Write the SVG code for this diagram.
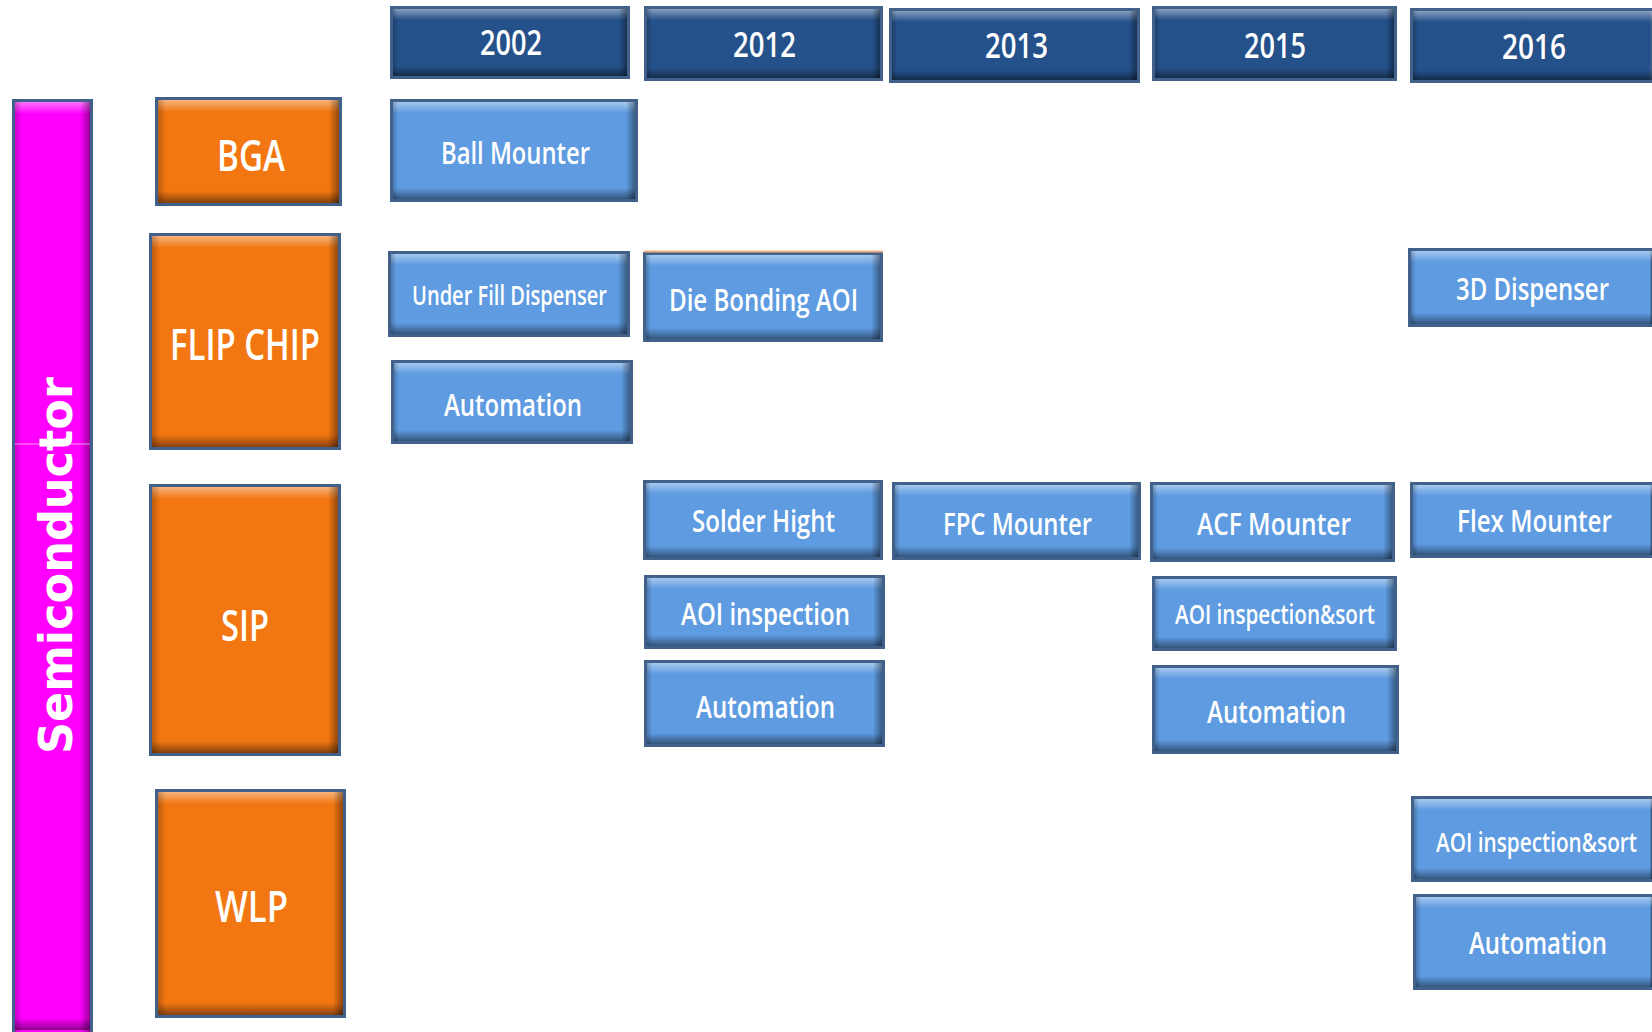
<svg xmlns="http://www.w3.org/2000/svg" width="1652" height="1032" viewBox="0 0 1652 1032">
<defs>
<linearGradient id="gTop" x1="0" y1="0" x2="0" y2="1"><stop offset="0" stop-color="#fff" stop-opacity="0.45"/><stop offset="1" stop-color="#fff" stop-opacity="0"/></linearGradient>
<linearGradient id="gBot" x1="0" y1="0" x2="0" y2="1"><stop offset="0" stop-color="#000" stop-opacity="0"/><stop offset="1" stop-color="#000" stop-opacity="0.45"/></linearGradient>
<linearGradient id="gRgt" x1="0" y1="0" x2="1" y2="0"><stop offset="0" stop-color="#000" stop-opacity="0"/><stop offset="1" stop-color="#000" stop-opacity="0.4"/></linearGradient>
<linearGradient id="gLft" x1="0" y1="0" x2="1" y2="0"><stop offset="0" stop-color="#000" stop-opacity="0.22"/><stop offset="1" stop-color="#000" stop-opacity="0"/></linearGradient>
</defs>
<style>
.box{stroke:#41618A;stroke-width:3}
.hdr{fill:#25518A}
.blue{fill:#5E9BE1}
.org{fill:#F27612}
.mag{fill:#FF00FF}
.t{fill:#fff;font-family:"Open Sans","Noto Sans","Liberation Sans",sans-serif;font-weight:600;text-anchor:middle}
.ty{font-size:35px}
.tb{font-size:31px}
.ts{font-size:27px}
.to{font-size:44px}
.top{fill:url(#gTop)}
.bot{fill:url(#gBot)}
.rgt{fill:url(#gRgt)}
.lft{fill:url(#gLft)}
</style>
<rect width="1652" height="1032" fill="#fff"/>

<g id="semiconductor">
<rect class="box mag" x="13.5" y="100.5" width="78" height="933"/>
<rect class="top" x="15" y="102" width="75" height="12"/>
<rect class="lft" x="15" y="102" width="7" height="930"/>
<rect class="rgt" x="80" y="102" width="10" height="930"/>
<rect class="bot" x="15" y="1018" width="75" height="12"/>
<line x1="15" y1="444" x2="90" y2="444" stroke="#fff" stroke-opacity="0.6" stroke-width="1"/>
<text transform="translate(72,565.5) rotate(-90)" x="0" y="0" fill="#fff" font-family="DejaVu Sans, Verdana, sans-serif" font-weight="bold" font-size="46" text-anchor="middle" textLength="377" lengthAdjust="spacingAndGlyphs">Semiconductor</text>
</g>

<g id="y2002"><rect class="box hdr" x="391.5" y="7.5" width="237" height="70"/><rect class="top" x="393" y="9" width="234" height="11"/><rect class="bot" x="393" y="66" width="234" height="10"/><rect class="lft" x="393" y="9" width="5" height="67"/><rect class="rgt" x="619" y="9" width="8" height="67"/><text class="t ty" x="511" y="55" textLength="62" lengthAdjust="spacingAndGlyphs">2002</text></g>
<g id="y2012"><rect class="box hdr" x="645.5" y="7.5" width="236" height="72"/><rect class="top" x="647" y="9" width="233" height="11"/><rect class="bot" x="647" y="68" width="233" height="10"/><rect class="lft" x="647" y="9" width="5" height="69"/><rect class="rgt" x="872" y="9" width="8" height="69"/><text class="t ty" x="764.5" y="57" textLength="63" lengthAdjust="spacingAndGlyphs">2012</text></g>
<g id="y2013"><rect class="box hdr" x="890.5" y="9.5" width="248" height="72"/><rect class="top" x="892" y="11" width="245" height="11"/><rect class="bot" x="892" y="70" width="245" height="10"/><rect class="lft" x="892" y="11" width="5" height="69"/><rect class="rgt" x="1129" y="11" width="8" height="69"/><text class="t ty" x="1016.5" y="58" textLength="63" lengthAdjust="spacingAndGlyphs">2013</text></g>
<g id="y2015"><rect class="box hdr" x="1153.5" y="7.5" width="242" height="72"/><rect class="top" x="1155" y="9" width="239" height="11"/><rect class="bot" x="1155" y="68" width="239" height="10"/><rect class="lft" x="1155" y="9" width="5" height="69"/><rect class="rgt" x="1386" y="9" width="8" height="69"/><text class="t ty" x="1275" y="58" textLength="62" lengthAdjust="spacingAndGlyphs">2015</text></g>
<g id="y2016"><rect class="box hdr" x="1411.5" y="9.5" width="240.5" height="72"/><rect class="top" x="1413" y="11" width="239" height="11"/><rect class="bot" x="1413" y="70" width="239" height="10"/><rect class="lft" x="1413" y="11" width="5" height="69"/><text class="t ty" x="1534" y="59" textLength="64" lengthAdjust="spacingAndGlyphs">2016</text></g>

<g id="bga"><rect class="box org" x="156.5" y="98.5" width="184" height="106"/><rect class="top" x="158" y="100" width="181" height="12"/><rect class="bot" x="158" y="191" width="181" height="12"/><rect class="lft" x="158" y="100" width="8" height="103"/><rect class="rgt" x="329" y="100" width="10" height="103"/><text class="t to" x="251" y="171" textLength="68" lengthAdjust="spacingAndGlyphs">BGA</text></g>
<g id="flipchip"><rect class="box org" x="150.5" y="234.5" width="189" height="214"/><rect class="top" x="152" y="236" width="186" height="12"/><rect class="bot" x="152" y="435" width="186" height="12"/><rect class="lft" x="152" y="236" width="8" height="211"/><rect class="rgt" x="328" y="236" width="10" height="211"/><text class="t to" x="245" y="360" textLength="150" lengthAdjust="spacingAndGlyphs">FLIP CHIP</text></g>
<g id="sip"><rect class="box org" x="150.5" y="485.5" width="189" height="269"/><rect class="top" x="152" y="487" width="186" height="12"/><rect class="bot" x="152" y="741" width="186" height="12"/><rect class="lft" x="152" y="487" width="8" height="266"/><rect class="rgt" x="328" y="487" width="10" height="266"/><text class="t to" x="245" y="641" textLength="48" lengthAdjust="spacingAndGlyphs">SIP</text></g>
<g id="wlp"><rect class="box org" x="156.5" y="790.5" width="188" height="226"/><rect class="top" x="158" y="792" width="185" height="12"/><rect class="bot" x="158" y="1003" width="185" height="12"/><rect class="lft" x="158" y="792" width="8" height="223"/><rect class="rgt" x="333" y="792" width="10" height="223"/><text class="t to" x="251.5" y="922" textLength="73" lengthAdjust="spacingAndGlyphs">WLP</text></g>

<g id="ballmounter"><rect class="box blue" x="391.5" y="100.5" width="245" height="100"/><rect class="top" x="393" y="102" width="242" height="11"/><rect class="bot" x="393" y="188" width="242" height="11"/><rect class="lft" x="393" y="102" width="5" height="97"/><rect class="rgt" x="626" y="102" width="9" height="97"/><text class="t tb" x="515.5" y="164" textLength="149" lengthAdjust="spacingAndGlyphs">Ball Mounter</text></g>
<g id="underfill"><rect class="box blue" x="389.5" y="252.5" width="239" height="83"/><rect class="top" x="391" y="254" width="236" height="11"/><rect class="bot" x="391" y="323" width="236" height="11"/><rect class="lft" x="391" y="254" width="5" height="80"/><rect class="rgt" x="618" y="254" width="9" height="80"/><text class="t ts" x="509.5" y="305" textLength="195" lengthAdjust="spacingAndGlyphs">Under Fill Dispenser</text></g>
<g id="automation-fc"><rect class="box blue" x="392.5" y="361.5" width="239" height="81"/><rect class="top" x="394" y="363" width="236" height="11"/><rect class="bot" x="394" y="430" width="236" height="11"/><rect class="lft" x="394" y="363" width="5" height="78"/><rect class="rgt" x="621" y="363" width="9" height="78"/><text class="t tb" x="513" y="416" textLength="138" lengthAdjust="spacingAndGlyphs">Automation</text></g>
<g id="diebonding"><rect class="box blue" x="644.5" y="253.5" width="237" height="87"/><line x1="644" y1="251.5" x2="883" y2="251.5" stroke="#F4B183" stroke-width="2"/><rect class="top" x="646" y="255" width="234" height="11"/><rect class="bot" x="646" y="328" width="234" height="11"/><rect class="lft" x="646" y="255" width="5" height="84"/><rect class="rgt" x="871" y="255" width="9" height="84"/><text class="t tb" x="763.5" y="311" textLength="189" lengthAdjust="spacingAndGlyphs">Die Bonding AOI</text></g>
<g id="dispenser3d"><rect class="box blue" x="1409.5" y="249.5" width="242.5" height="76"/><rect class="top" x="1411" y="251" width="241" height="11"/><rect class="bot" x="1411" y="313" width="241" height="11"/><rect class="lft" x="1411" y="251" width="5" height="73"/><text class="t tb" x="1532.5" y="300" textLength="153" lengthAdjust="spacingAndGlyphs">3D Dispenser</text></g>

<g id="solderhight"><rect class="box blue" x="644.5" y="481.5" width="237" height="77"/><rect class="top" x="646" y="483" width="234" height="11"/><rect class="bot" x="646" y="546" width="234" height="11"/><rect class="lft" x="646" y="483" width="5" height="74"/><rect class="rgt" x="871" y="483" width="9" height="74"/><text class="t tb" x="763.5" y="532" textLength="143" lengthAdjust="spacingAndGlyphs">Solder Hight</text></g>
<g id="fpcmounter"><rect class="box blue" x="893.5" y="483.5" width="246" height="75"/><rect class="top" x="895" y="485" width="243" height="11"/><rect class="bot" x="895" y="546" width="243" height="11"/><rect class="lft" x="895" y="485" width="5" height="72"/><rect class="rgt" x="1129" y="485" width="9" height="72"/><text class="t tb" x="1017.5" y="535" textLength="149" lengthAdjust="spacingAndGlyphs">FPC Mounter</text></g>
<g id="acfmounter"><rect class="box blue" x="1151.5" y="483.5" width="242" height="77"/><rect class="top" x="1153" y="485" width="239" height="11"/><rect class="bot" x="1153" y="548" width="239" height="11"/><rect class="lft" x="1153" y="485" width="5" height="74"/><rect class="rgt" x="1383" y="485" width="9" height="74"/><text class="t tb" x="1274" y="535" textLength="154" lengthAdjust="spacingAndGlyphs">ACF Mounter</text></g>
<g id="flexmounter"><rect class="box blue" x="1411.5" y="483.5" width="240.5" height="73"/><rect class="top" x="1413" y="485" width="239" height="11"/><rect class="bot" x="1413" y="544" width="239" height="11"/><rect class="lft" x="1413" y="485" width="5" height="70"/><text class="t tb" transform="translate(1534.5,532) scale(0.8,1)" x="0" y="0" textLength="193.75" lengthAdjust="spacingAndGlyphs">Flex Mounter</text></g>

<g id="aoi-2012"><rect class="box blue" x="645.5" y="576.5" width="238" height="71"/><rect class="top" x="647" y="578" width="235" height="11"/><rect class="bot" x="647" y="635" width="235" height="11"/><rect class="lft" x="647" y="578" width="5" height="68"/><rect class="rgt" x="873" y="578" width="9" height="68"/><text class="t tb" x="765.5" y="625" textLength="169" lengthAdjust="spacingAndGlyphs">AOI inspection</text></g>
<g id="automation-2012"><rect class="box blue" x="645.5" y="661.5" width="238" height="84"/><rect class="top" x="647" y="663" width="235" height="11"/><rect class="bot" x="647" y="733" width="235" height="11"/><rect class="lft" x="647" y="663" width="5" height="81"/><rect class="rgt" x="873" y="663" width="9" height="81"/><text class="t tb" x="765.5" y="718" textLength="139" lengthAdjust="spacingAndGlyphs">Automation</text></g>
<g id="aoisort-2015"><rect class="box blue" x="1153.5" y="577.5" width="242" height="72"/><rect class="top" x="1155" y="579" width="239" height="11"/><rect class="bot" x="1155" y="637" width="239" height="11"/><rect class="lft" x="1155" y="579" width="5" height="69"/><rect class="rgt" x="1385" y="579" width="9" height="69"/><text class="t ts" x="1275" y="624" textLength="200" lengthAdjust="spacingAndGlyphs">AOI inspection&amp;sort</text></g>
<g id="automation-2015"><rect class="box blue" x="1153.5" y="666.5" width="244" height="86"/><rect class="top" x="1155" y="668" width="241" height="11"/><rect class="bot" x="1155" y="740" width="241" height="11"/><rect class="lft" x="1155" y="668" width="5" height="83"/><rect class="rgt" x="1387" y="668" width="9" height="83"/><text class="t tb" x="1276.5" y="723" textLength="139" lengthAdjust="spacingAndGlyphs">Automation</text></g>
<g id="aoisort-2016"><rect class="box blue" x="1412.5" y="797.5" width="239.5" height="83"/><rect class="top" x="1414" y="799" width="238" height="11"/><rect class="bot" x="1414" y="868" width="238" height="11"/><rect class="lft" x="1414" y="799" width="5" height="80"/><text class="t ts" transform="translate(1536.5,852) scale(0.75,1)" x="0" y="0" textLength="268" lengthAdjust="spacingAndGlyphs">AOI inspection&amp;sort</text></g>
<g id="automation-2016"><rect class="box blue" x="1414.5" y="895.5" width="237.5" height="93"/><rect class="top" x="1416" y="897" width="236" height="11"/><rect class="bot" x="1416" y="976" width="236" height="11"/><rect class="lft" x="1416" y="897" width="5" height="90"/><text class="t tb" x="1538" y="954" textLength="138" lengthAdjust="spacingAndGlyphs">Automation</text></g>

<g id="connectors"></g>
</svg>
